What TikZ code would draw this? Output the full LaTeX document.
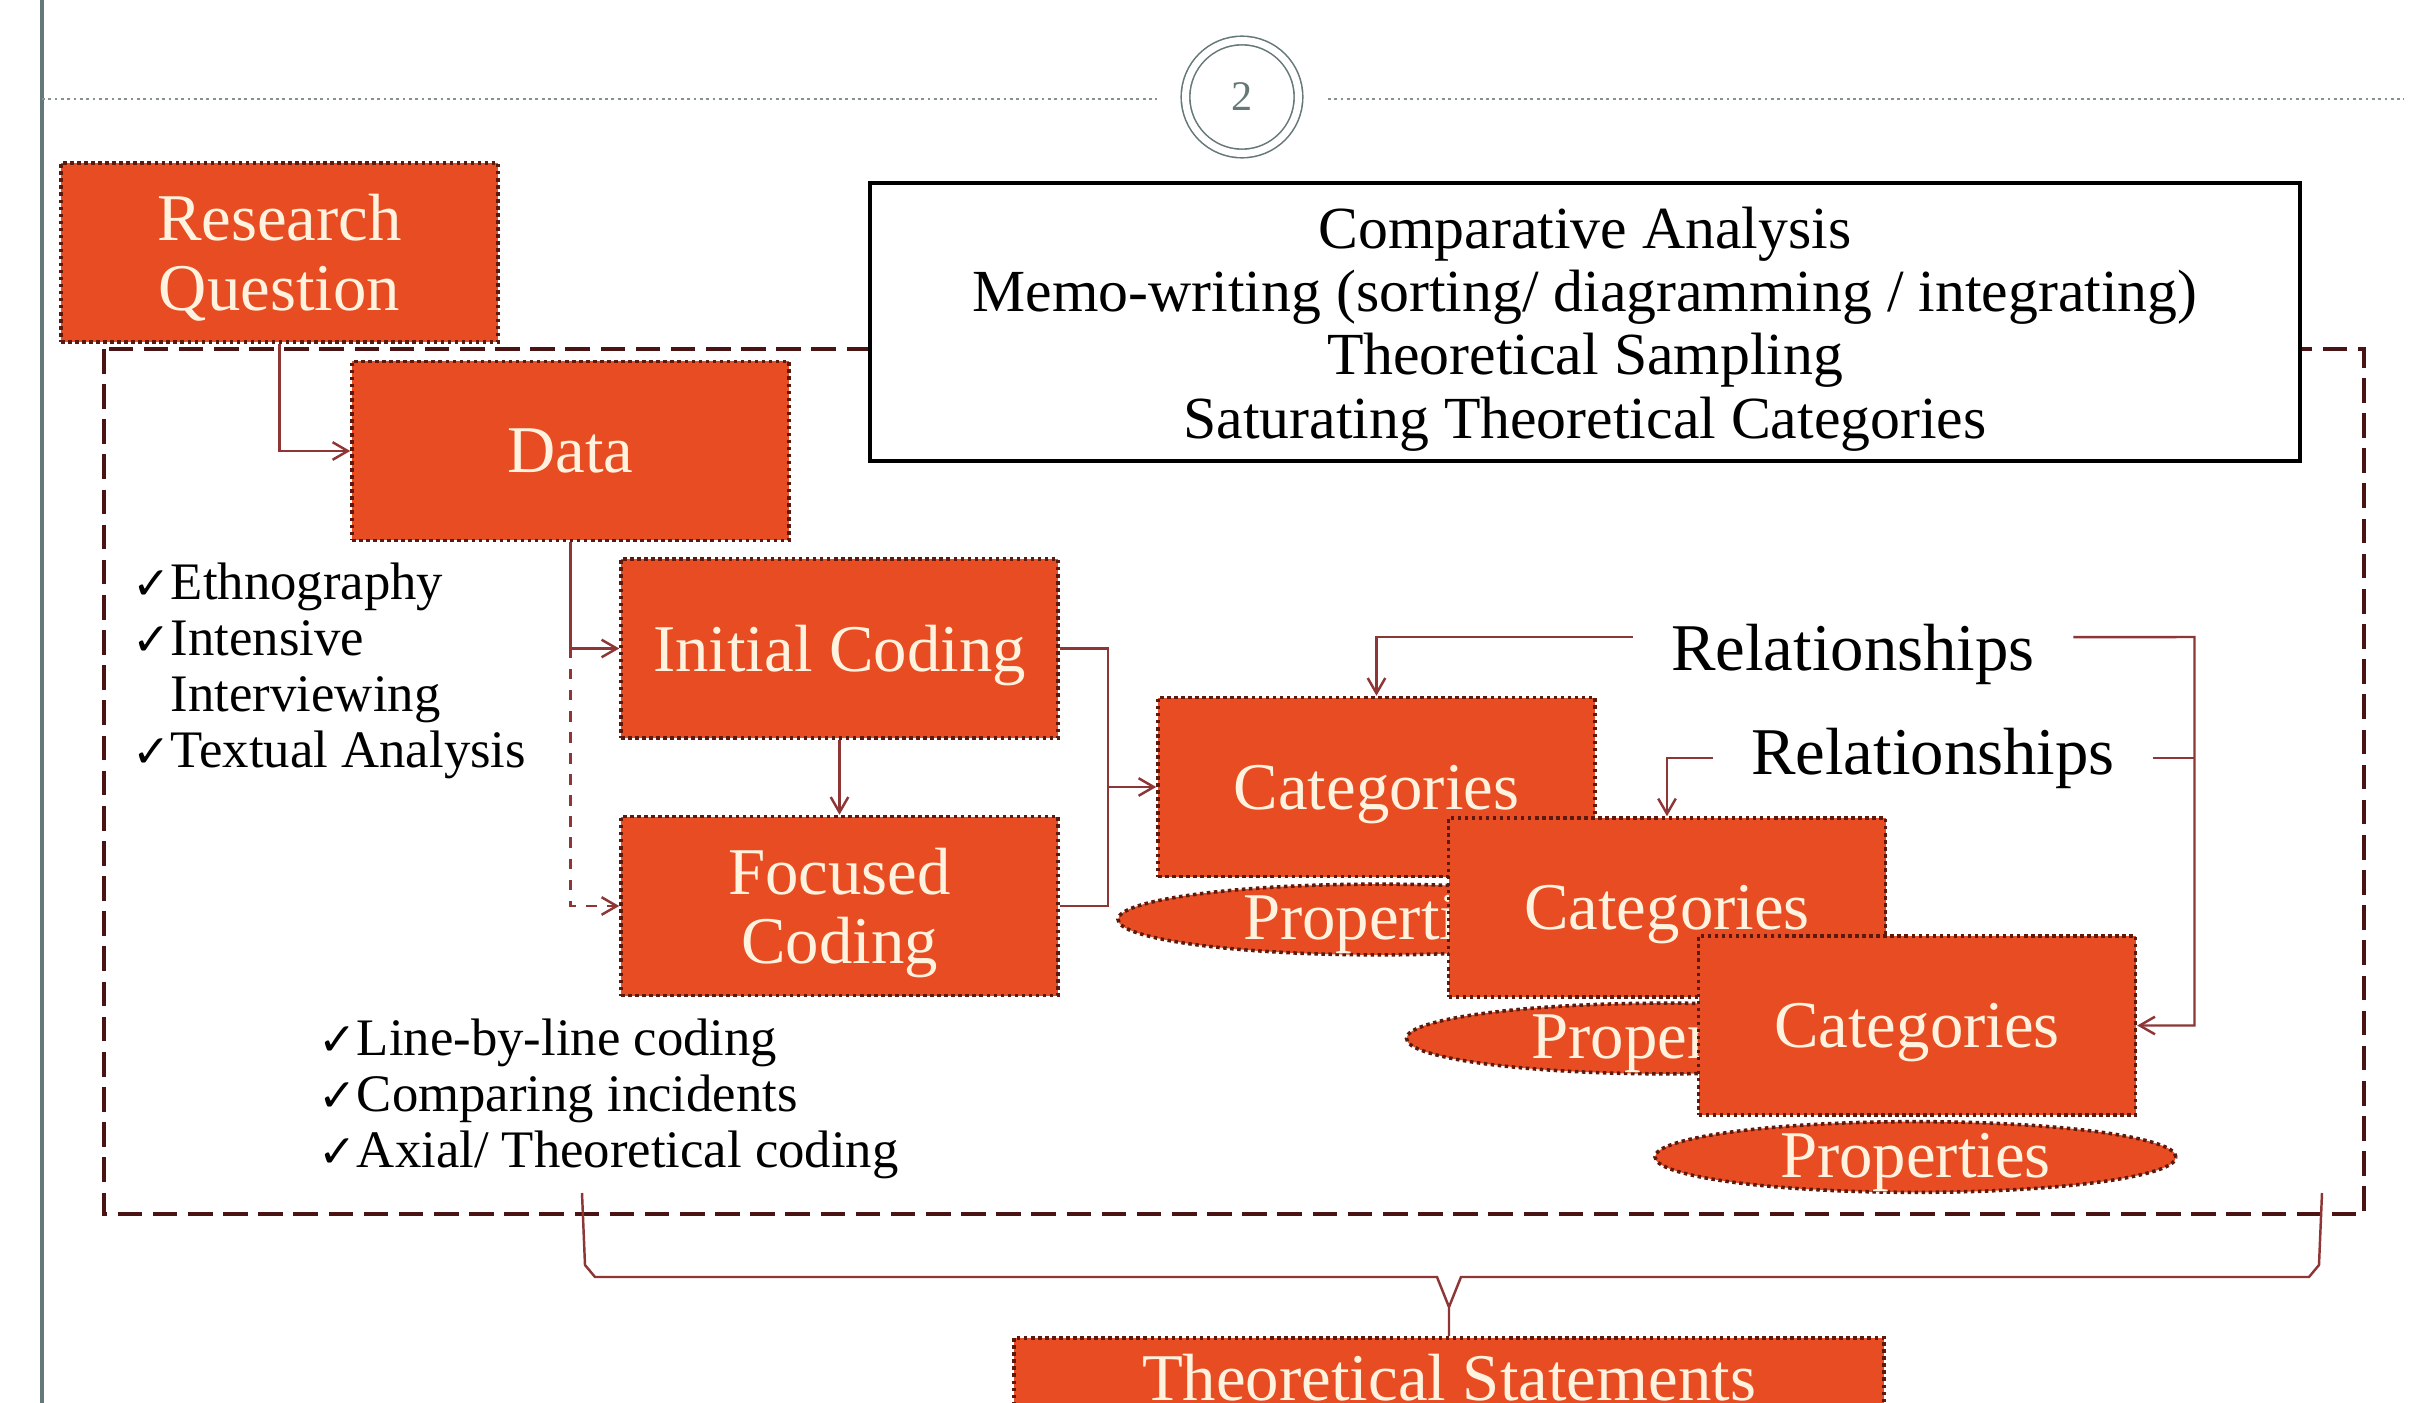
\documentclass[tikz,border=0pt]{standalone}
\usepackage{fontspec}
\setmainfont{Liberation Serif}
\newfontfamily\symfont{DejaVu Sans}
\usepackage{xcolor}
\usepackage{tikz}
\usetikzlibrary{positioning, arrows.meta, calc, shapes.geometric}
\definecolor{boxOrange}{HTML}{E84C22}
\definecolor{boxEdge}{HTML}{5C1A0E}
\definecolor{boxText}{HTML}{FFF3DF}
\definecolor{linkRed}{HTML}{8E3535}
\definecolor{frameDark}{HTML}{4A1414}
\definecolor{slateLine}{HTML}{667777}
\newcommand{\tick}{{\symfont\fontsize{13}{13}\selectfont ✓}}

\begin{document}
\begin{tikzpicture}[
  orbox/.style={rectangle, fill=boxOrange, draw=boxEdge, densely dotted, line width=1pt, text=boxText,
    font=\fontsize{19}{19.8}\selectfont, align=center, minimum width=4.37cm, minimum height=1.79cm,
    inner sep=0pt, text depth=0pt},
  propoval/.style={ellipse, fill=boxOrange, draw=boxEdge, densely dotted, line width=1pt, text=boxText,
    font=\fontsize{19}{19.8}\selectfont, minimum width=5.21cm, inner sep=0pt, text height=0.45cm, text depth=0.05cm},
  linkln/.style={draw=linkRed, line width=0.7pt},
  arr/.style={-{Straight Barb[angle=60:5pt]}},
  ticklist/.style={align=left, inner sep=0pt, anchor=west, font=\fontsize{15}{16}\selectfont},
  relnote/.style={font=\fontsize{19}{20}\selectfont, inner xsep=0.38cm, inner ysep=0pt}
]
\useasboundingbox (0,0) rectangle (24.35,-14.03);
\clip (0,0) rectangle (24.35,-14.03);

\draw[slateLine, line width=1.2pt] (0.42,0) -- (0.42,-14.03);
\draw[slateLine!80, densely dotted, line width=0.8pt] (0.42,-0.99) -- (11.57,-0.99);
\draw[slateLine!80, densely dotted, line width=0.8pt] (13.28,-0.99) -- (24.04,-0.99);
\node (pagenum) [circle, draw=slateLine, double, double distance=0.07cm, line width=0.45pt, minimum size=1.13cm,
  inner sep=0pt, text=slateLine, font=\fontsize{12}{12}\selectfont] at (12.42,-0.97) {2};

\draw[frameDark, line width=1.4pt, dash pattern=on 7pt off 3pt] (1.04,-3.49) rectangle (23.64,-12.14);

\node (memo) [draw=black, line width=1.2pt, fill=white, minimum width=14.3cm, minimum height=2.78cm, align=center,
  font=\fontsize{17}{18}\selectfont] at (15.85,-3.22) {};
\node (memotext) [align=center, font=\fontsize{17}{18}\selectfont] at (15.85,-3.29)
  {Comparative Analysis\\Memo-writing (sorting/ diagramming / integrating)\\Theoretical Sampling\\Saturating Theoretical Categories};

\node (rq) [orbox] at (2.795,-2.525) {Research\\Question};
\node (data) [orbox] at (5.705,-4.51) {Data};
\node (init) [orbox] at (8.395,-6.485) {Initial Coding};
\node (focus) [orbox] at (8.395,-9.06) {Focused\\Coding};

\node (cat1) [orbox] at (13.765,-7.87) {Categories};
\node (prop1) [propoval] at (13.785,-9.195) {Properties};
\node (cat2) [orbox] at (16.67,-9.075) {Categories};
\node (prop2) [propoval] at (16.67,-10.385) {Properties};
\node (cat3) [orbox] at (19.17,-10.255) {Categories};
\node (prop3) [propoval] at (19.155,-11.57) {Properties};

\node (rel1) [relnote] at (18.53,-6.54) {Relationships};
\node (rel2) [relnote] at (19.33,-7.58) {Relationships};

\node (gather) [ticklist] at (1.32,-6.71)
  {\tick Ethnography\\\tick Intensive\\\phantom{\tick}Interviewing\\\tick Textual Analysis};
\node (codes) [ticklist] at (3.18,-10.99)
  {\tick Line-by-line coding\\\tick Comparing incidents\\\tick Axial/ Theoretical coding};

\node (stmt) [orbox, minimum width=8.7cm, minimum height=0.8cm, anchor=north] at (14.49,-13.36) {Theoretical Statements};

\draw[linkln, arr] (rq.south) |- (data.west);
\draw[linkln, arr] (data.south) |- (init.west);
\draw[linkln, arr, dashed] (data.south) |- (focus.west);
\draw[linkln, arr] (init.south) -- (focus.north);
\coordinate (merge) at ($(init.east)!0.5!(cat1.west)$);
\draw[linkln] (init.east) -| (merge) |- (focus.east);
\draw[linkln, arr] (merge |- cat1.west) -- (cat1.west);

\coordinate (turn) at ($(rel1.east)+(1.21,0.17)$);
\draw[linkln, arr] ([yshift=4.8pt]rel1.west) -| (cat1.north);
\draw[linkln, arr] ([yshift=4.8pt]rel1.east) -- (turn) |- (cat3.east);
\draw[linkln, arr] (rel2.west) -| (cat2.north);
\draw[linkln] (rel2.east) -- (rel2.east -| turn);

\coordinate (braceL) at (5.82,-11.93);
\coordinate (braceR) at (23.22,-11.93);
\draw[linkln] (braceL) -- ++(0.03,-0.72) -- ++(0.1,-0.12) -- ($(stmt.north)+(-0.12,0.59)$)
  -- ($(stmt.north)+(0,0.29)$) -- (stmt.north);
\draw[linkln] (braceR) -- ++(-0.03,-0.72) -- ++(-0.1,-0.12) -- ($(stmt.north)+(0.12,0.59)$)
  -- ($(stmt.north)+(0,0.29)$);
\end{tikzpicture}
\end{document}
